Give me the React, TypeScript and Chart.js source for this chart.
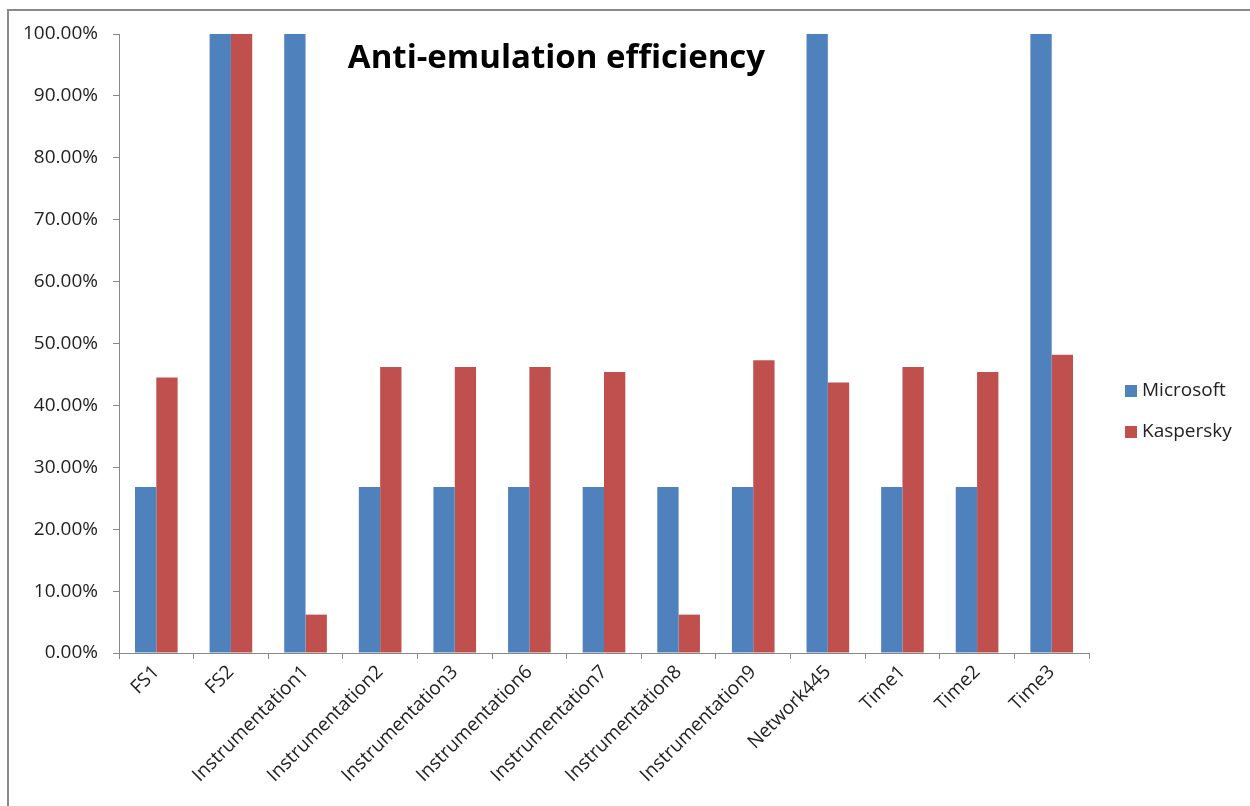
import React, { useEffect, useRef } from "react";
import { Chart, registerables } from "chart.js";

Chart.register(...registerables);

const categories = [
  "FS1", "FS2", "Instrumentation1", "Instrumentation2", "Instrumentation3",
  "Instrumentation6", "Instrumentation7", "Instrumentation8", "Instrumentation9",
  "Network445", "Time1", "Time2", "Time3",
];
const microsoft = [0.268, 1.0, 1.0, 0.268, 0.268, 0.268, 0.268, 0.268, 0.268, 1.0, 0.268, 0.268, 1.0];
const kaspersky = [0.445, 1.0, 0.062, 0.462, 0.462, 0.462, 0.454, 0.062, 0.473, 0.437, 0.462, 0.454, 0.482];
const seriesNames = ["Microsoft", "Kaspersky"];
const seriesColors = ["#4F81BD", "#C0504D"];
const titleText = "Anti-emulation efficiency";

const FONT = "'Open Sans', 'Noto Sans', sans-serif";

const overlayPlugin = {
  id: "overlay",
  afterDraw(chart: any) {
    const { ctx, chartArea } = chart;
    ctx.save();
    // title
    ctx.font = `bold 33px ${FONT}`;
    ctx.fillStyle = "#000";
    ctx.textAlign = "center";
    ctx.textBaseline = "middle";
    ctx.fillText(titleText, chartArea.left + 0.451 * (chartArea.right - chartArea.left), 48);
    // legend
    const cy = chart.height / 2 + 3;
    const spacing = 41;
    chart.data.datasets.forEach((ds: any, i: number) => {
      const y = cy + (i - 0.5) * spacing;
      const x = chartArea.right + 36;
      ctx.fillStyle = ds.backgroundColor;
      ctx.fillRect(x, y - 6, 12, 12);
      ctx.fillStyle = "#222";
      ctx.font = `19px ${FONT}`;
      ctx.textAlign = "left";
      ctx.textBaseline = "middle";
      ctx.fillText(ds.label, x + 17, y);
    });
    ctx.restore();
  },
};

function BarChart() {
  const ref = useRef<HTMLCanvasElement>(null);
  useEffect(() => {
    if (!ref.current) return;
    const chart = new Chart(ref.current, {
      type: "bar",
      data: {
        labels: categories,
        datasets: [
          { label: seriesNames[0], data: microsoft, backgroundColor: seriesColors[0] },
          { label: seriesNames[1], data: kaspersky, backgroundColor: seriesColors[1] },
        ],
      },
      options: {
        animation: false,
        responsive: false,
        maintainAspectRatio: false,
        layout: { padding: { left: 0, top: 23, right: 161, bottom: 0 } },
        datasets: { bar: { categoryPercentage: 2 / 3.5, barPercentage: 1 } },
        plugins: { legend: { display: false }, title: { display: false }, tooltip: { enabled: false } },
        scales: {
          x: {
            grid: { display: true, drawOnChartArea: false, drawTicks: true, tickLength: 6, color: "#888", offset: true },
            border: { display: true, color: "#888", width: 1 },
            ticks: {
              color: "#222",
              font: { family: FONT, size: 19 },
              maxRotation: 45,
              minRotation: 45,
              autoSkip: false,
              padding: 2,
            },
            afterFit(scale: any) {
              scale.height = 153;
              scale.paddingLeft = 0;
              scale.paddingRight = 0;
            },
          },
          y: {
            min: 0,
            max: 1,
            grid: { display: true, drawOnChartArea: false, drawTicks: true, tickLength: 6, color: "#888" },
            border: { display: true, color: "#888", width: 1 },
            ticks: {
              stepSize: 0.1,
              color: "#222",
              font: { family: FONT, size: 19 },
              padding: 15,
              callback: (v: any) => (Number(v) * 100).toFixed(2) + "%",
            },
            afterFit(scale: any) {
              scale.width = 110;
              scale.paddingTop = 0;
              scale.paddingBottom = 0;
            },
          },
        },
      },
      plugins: [overlayPlugin],
    });
    return () => chart.destroy();
  }, []);
  return <canvas ref={ref} width={1241} height={795} style={{ display: "block" }} />;
}

export default function App() {
  return (
    <div
      style={{
        position: "fixed",
        left: 7,
        top: 9,
        width: 1243,
        height: 797,
        borderTop: "2px solid #8a8a8a",
        borderLeft: "2px solid #8a8a8a",
        background: "#fff",
        overflow: "hidden",
      }}
    >
      <BarChart />
    </div>
  );
}
